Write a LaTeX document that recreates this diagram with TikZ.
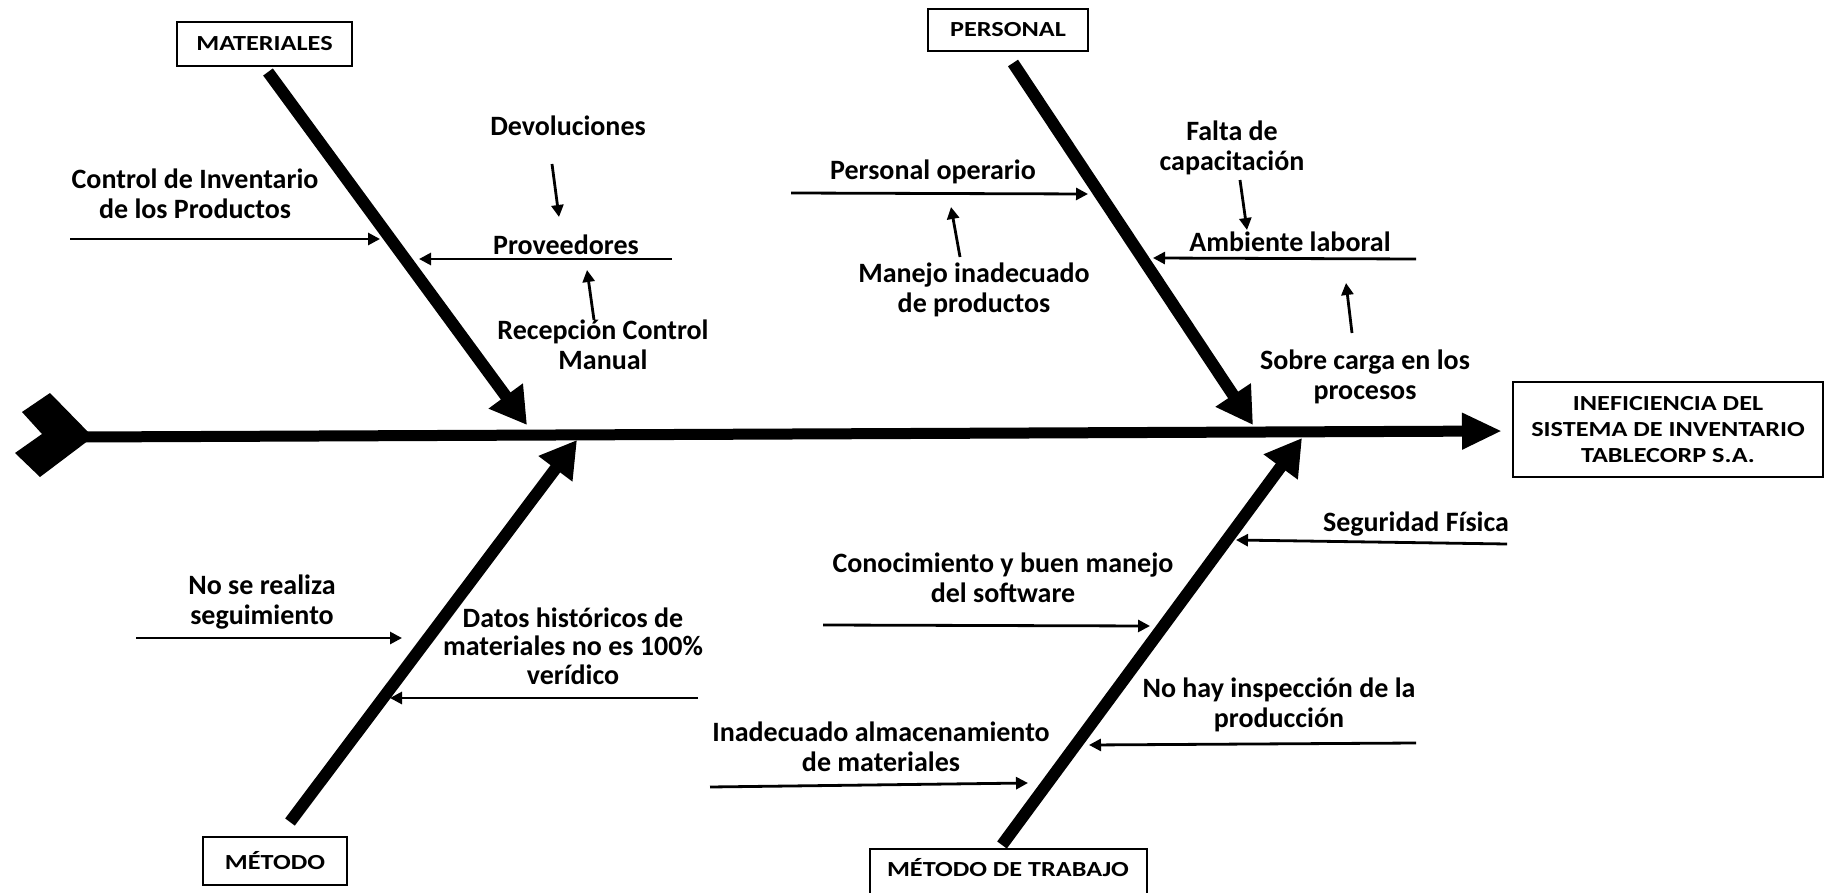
\documentclass[tikz,border=0pt]{standalone}
\usepackage{fontspec}
\setmainfont{Carlito}
\newfontfamily\boxfont[FakeStretch=1.22]{Carlito}
\usetikzlibrary{arrows.meta}
\begin{document}
\begin{tikzpicture}[x=1pt,y=-1pt,
  lbl/.style={font=\fontsize{28}{30}\selectfont\bfseries, align=center, inner sep=0pt},
  catbox/.style={draw, line width=2pt, font=\boxfont\fontsize{21.5}{26}\selectfont\bfseries, inner sep=0pt, align=center},
  bone/.style={line width=12pt, -{Triangle[length=36pt,width=40pt]}},
  sub/.style={line width=2.8pt, -{Triangle[length=12pt,width=12pt]}},
]
\useasboundingbox (0,0) rectangle (1825,893);
\fill[white] (0,0) rectangle (1825,893);

% category boxes
\node[catbox, minimum width=175pt, minimum height=44pt] (mat) at (264.5,44) {MATERIALES};
\node[catbox, minimum width=160pt, minimum height=42pt] (per) at (1008,30) {PERSONAL};
\node[catbox, minimum width=144pt, minimum height=48pt] (met) at (275,861) {MÉTODO};
\node[catbox, minimum width=277pt, minimum height=62pt, anchor=north] (trab) at (1008.5,848) {};
\node[catbox, draw=none] (trabt) at (1008,868) {MÉTODO DE TRABAJO};
\node[catbox, minimum width=310pt, minimum height=95pt] (eff) at (1668,429.5) {INEFICIENCIA DEL\\SISTEMA DE INVENTARIO\\TABLECORP S.A.};

% spine
\coordinate (tail) at (82,437);
\coordinate (head) at (1502,431);
\fill (50,393) -- (93,437) -- (40,477) -- (15,453) -- (42,434) -- (22,412) -- cycle;
\draw[line width=11pt, -{Triangle[length=40pt,width=34pt]}] (tail) -- (head);

% main bones
\coordinate (matA) at (268,72);   \coordinate (matB) at (527,425);
\coordinate (perA) at (1013,63);  \coordinate (perB) at (1253,425);
\coordinate (metA) at (290,822);  \coordinate (metB) at (577,440);
\coordinate (trbA) at (1002,845); \coordinate (trbB) at (1302,438);
\draw[bone] (matA) -- (matB);
\draw[bone] (perA) -- (perB);
\draw[bone] (metA) -- (metB);
\draw[bone] (trbA) -- (trbB);

% labels
\node[lbl] (ctrl) at (195,194) {Control de Inventario\\de los Productos};
\node[lbl] (prov) at (566,245) {Proveedores};
\node[lbl] (devol) at (568,126) {Devoluciones};
\node[lbl] (recep) at (603,345) {Recepción Control\\Manual};
\node[lbl] (perop) at (933,172) {Personal operario};
\node[lbl] (manejo) at (974,290) {Manejo inadecuado\\de productos};
\node[lbl] (falta) at (1232,148) {Falta de\\capacitación};
\node[lbl] (amb) at (1290,242) {Ambiente laboral};
\node[lbl] (sobre) at (1365,377) {Sobre carga en los\\procesos};
\node[lbl] (nose) at (262,602) {No se realiza\\seguimiento};
\node[lbl, font=\fontsize{28}{28.5}\selectfont\bfseries] (datos) at (573,646) {Datos históricos de\\materiales no es 100\%\\verídico};
\node[lbl] (seg) at (1416,524) {Seguridad Física};
\node[lbl] (conoc) at (1003,578) {Conocimiento y buen manejo\\del software};
\node[lbl] (nohay) at (1279,705) {No hay inspección de la\\producción};
\node[lbl] (inad) at (881,747) {Inadecuado almacenamiento\\de materiales};

% sub arrows
\coordinate (a1s) at (70,239);   \coordinate (a1e) at (380,239);
\coordinate (a2s) at (672,259);  \coordinate (a2e) at (419,259);
\coordinate (a3s) at (552,164);  \coordinate (a3e) at (559,217);
\coordinate (a4s) at (594,320);  \coordinate (a4e) at (587,270);
\coordinate (a5s) at (791,193);  \coordinate (a5e) at (1088,194);
\coordinate (a6s) at (960,257);  \coordinate (a6e) at (951,207);
\coordinate (a7s) at (1240,180); \coordinate (a7e) at (1247,230);
\coordinate (a8s) at (1416,259); \coordinate (a8e) at (1153,258);
\coordinate (a9s) at (1352,333); \coordinate (a9e) at (1346,283);
\coordinate (a10s) at (136,638); \coordinate (a10e) at (402,638);
\coordinate (a11s) at (698,698); \coordinate (a11e) at (390,698);
\coordinate (a12s) at (1507,544); \coordinate (a12e) at (1236,540);
\coordinate (a13s) at (823,625); \coordinate (a13e) at (1150,626);
\coordinate (a14s) at (1416,743); \coordinate (a14e) at (1089,745);
\coordinate (a15s) at (710,787); \coordinate (a15e) at (1028,783);
\foreach \i in {1,...,15} {\draw[sub] (a\i s) -- (a\i e);}
\end{tikzpicture}
\end{document}
